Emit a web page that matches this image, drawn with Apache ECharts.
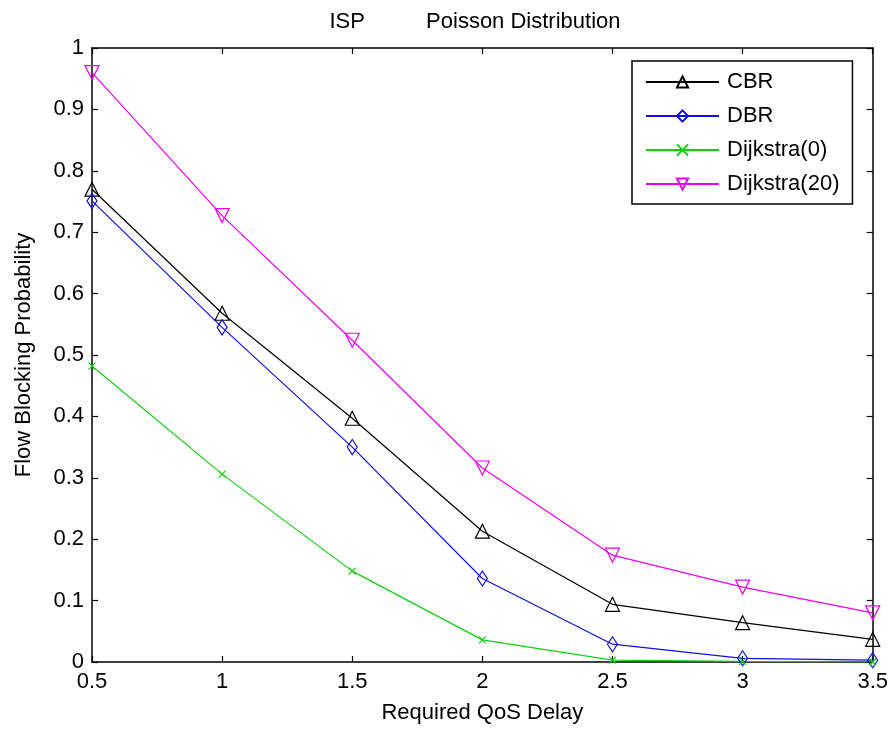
<!DOCTYPE html>
<html>
<head>
<meta charset="utf-8">
<script src="https://cdn.jsdelivr.net/npm/echarts@6/dist/echarts.min.js"></script>
<style>
html,body{margin:0;padding:0;background:#fff;}
#chart{width:891px;height:733px;}
</style>
</head>
<body>
<div id="chart"></div>
<script>
var xValues = [0.5, 1, 1.5, 2, 2.5, 3, 3.5];
var cbr    = [0.770, 0.568, 0.397, 0.213, 0.094, 0.064, 0.037];
var dbr    = [0.751, 0.545, 0.350, 0.136, 0.029, 0.006, 0.003];
var dij0   = [0.482, 0.306, 0.148, 0.036, 0.003, 0.001, 0.000];
var dij20  = [0.960, 0.727, 0.524, 0.316, 0.174, 0.122, 0.080];
var seriesNames = ['CBR', 'DBR', 'Dijkstra(0)', 'Dijkstra(20)'];
var titleText = 'ISP          Poisson Distribution';
var xName = 'Required QoS Delay';
var yName = 'Flow Blocking Probability';

function pairs(ys){ return xValues.map(function(x,i){ return [x, ys[i]]; }); }

var FONT = 'Liberation Sans, Arial, sans-serif';
var FS = 22;

function mkSeries(name, data, color, symbol, size, rotate){
  return {
    name: name, type: 'line', data: pairs(data),
    symbol: symbol, symbolSize: size, symbolRotate: rotate || 0,
    showAllSymbol: true,
    lineStyle: {color: color, width: 1.2},
    itemStyle: {color: 'rgba(255,255,255,0)', borderColor: color, borderWidth: 1.2},
    emphasis: {disabled: true},
    animation: false
  };
}

var chart = echarts.init(document.getElementById('chart'));
var axisCommon = {
  type: 'value',
  axisLine: {show: true, onZero: false, lineStyle: {color: '#000', width: 1.5}},
  axisTick: {show: true, inside: true, length: 6, lineStyle: {color: '#000', width: 1.2}},
  splitLine: {show: false}
};
chart.setOption({
  backgroundColor: '#fff',
  animation: false,
  title: {
    text: titleText, left: 470, textAlign: 'center', top: 6,
    textStyle: {fontFamily: FONT, fontSize: FS, fontWeight: 'normal', color: '#000'}
  },
  grid: {left: 92, right: 18, top: 48, bottom: 71},
  legend: {
    orient: 'vertical', left: 632, top: 61,
    padding: [10, 13, 9, 13], itemGap: 12, itemWidth: 73, itemHeight: 14,
    backgroundColor: '#fff', borderColor: '#000', borderWidth: 1.5,
    textStyle: {fontFamily: FONT, fontSize: FS, color: '#000', padding: [0,0,0,3]},
    data: seriesNames
  },
  xAxis: [
    Object.assign({}, axisCommon, {
      min: 0.5, max: 3.5, interval: 0.5, position: 'bottom',
      name: xName, nameLocation: 'middle', nameGap: 40,
      nameTextStyle: {fontFamily: FONT, fontSize: FS, color: '#000'},
      axisLabel: {fontFamily: FONT, fontSize: FS, color: '#000', margin: 9}
    }),
    Object.assign({}, axisCommon, {
      min: 0.5, max: 3.5, interval: 0.5, position: 'top',
      axisLabel: {show: false}
    })
  ],
  yAxis: [
    Object.assign({}, axisCommon, {
      min: 0, max: 1, interval: 0.1, position: 'left',
      name: yName, nameLocation: 'middle', nameGap: 57,
      nameTextStyle: {fontFamily: FONT, fontSize: FS, color: '#000'},
      axisLabel: {fontFamily: FONT, fontSize: FS, color: '#000', margin: 8}
    }),
    Object.assign({}, axisCommon, {
      min: 0, max: 1, interval: 0.1, position: 'right',
      axisLabel: {show: false}
    })
  ],
  series: [
    mkSeries(seriesNames[0], cbr, '#000000', 'triangle', 14, 0),
    mkSeries(seriesNames[1], dbr, '#1010e0', 'diamond', [10, 15], 0),
    mkSeries(seriesNames[2], dij0, '#10d010', 'path://M0,0L10,10M10,0L0,10', 7, 0),
    mkSeries(seriesNames[3], dij20, '#f000f0', 'triangle', 14, 180)
  ]
});
</script>
</body>
</html>
